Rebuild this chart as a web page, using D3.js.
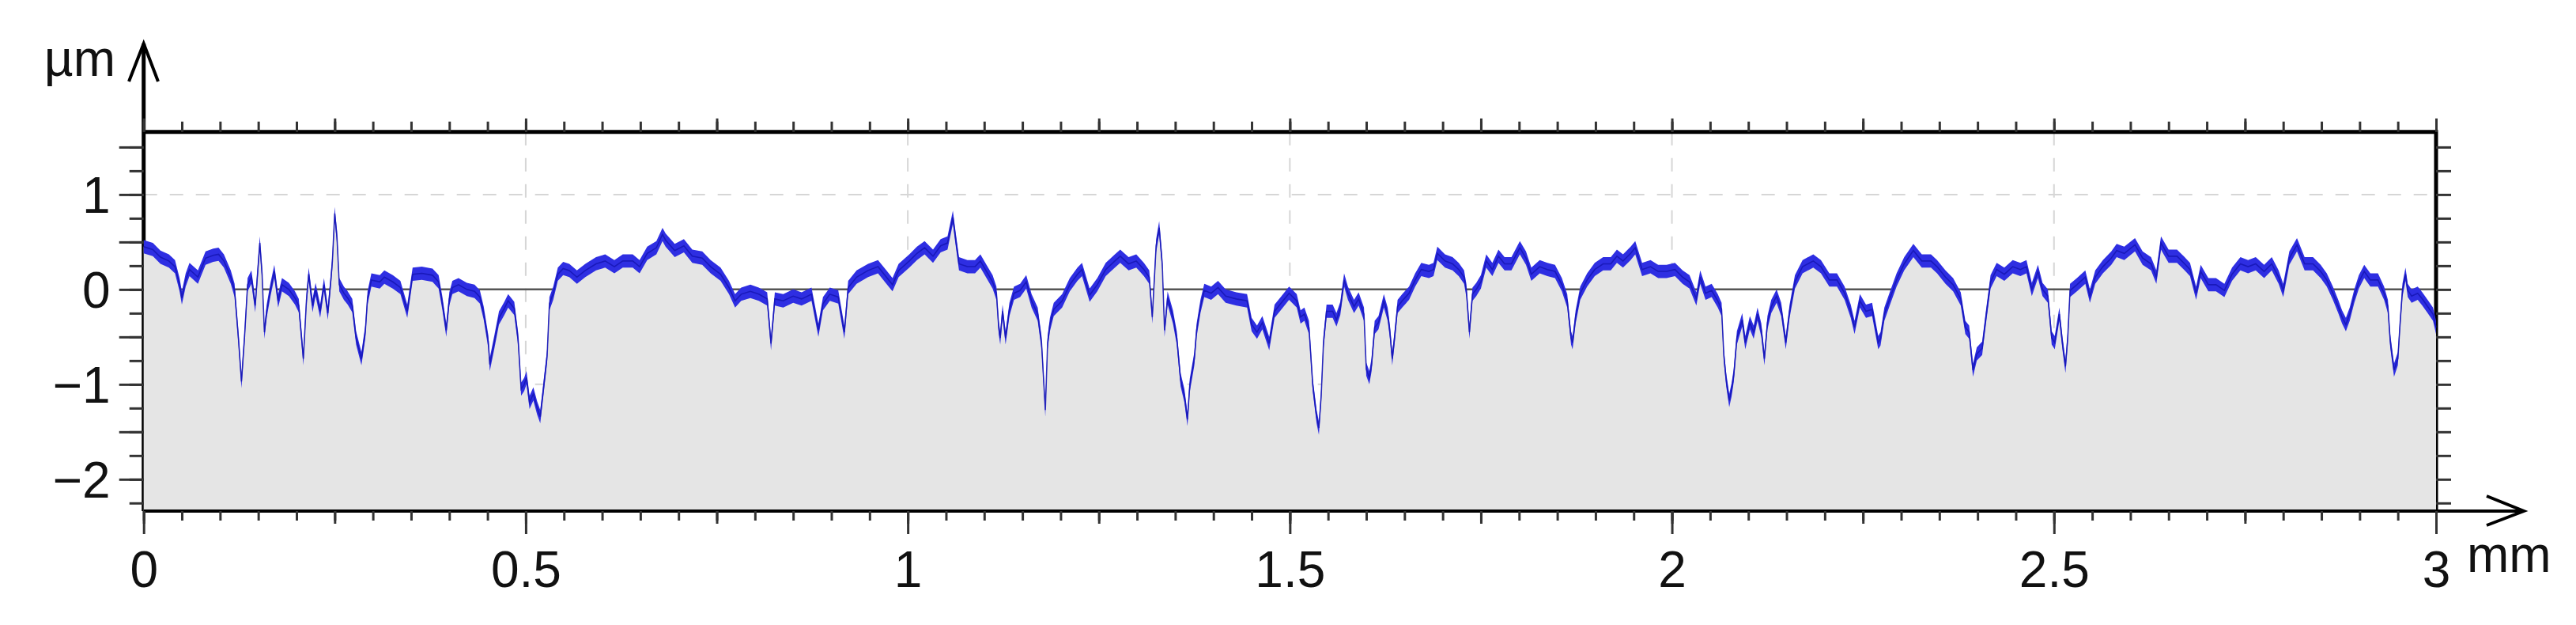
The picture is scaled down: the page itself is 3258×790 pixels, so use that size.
<!DOCTYPE html>
<html>
<head>
<meta charset="utf-8">
<script src="https://cdn.jsdelivr.net/npm/d3@7"></script>
<style>
  body { margin: 0; background: #fff; }
  text { font-family: "Liberation Sans", Arial, sans-serif; fill: #111; }
</style>
</head>
<body>
<div id="chart"></div>
<script>
// profile position along the trace (mm)
var profileX = [
  0.000, 0.012, 0.022, 0.033, 0.041, 0.047, 0.050, 0.055, 0.060, 0.071, 0.081, 0.091,
  0.098, 0.105, 0.114, 0.119, 0.124, 0.128, 0.132, 0.136, 0.141, 0.146, 0.149, 0.152,
  0.155, 0.158, 0.161, 0.166, 0.171, 0.176, 0.181, 0.190, 0.198, 0.203, 0.209, 0.213,
  0.216, 0.221, 0.225, 0.231, 0.236, 0.241, 0.245, 0.247, 0.250, 0.253, 0.256, 0.262,
  0.267, 0.273, 0.278, 0.285, 0.290, 0.293, 0.298, 0.309, 0.315, 0.326, 0.336, 0.345,
  0.352, 0.364, 0.378, 0.386, 0.391, 0.396, 0.400, 0.404, 0.412, 0.423, 0.433, 0.440,
  0.445, 0.451, 0.453, 0.459, 0.465, 0.472, 0.477, 0.485, 0.490, 0.494, 0.498, 0.501,
  0.505, 0.510, 0.515, 0.519, 0.523, 0.528, 0.531, 0.536, 0.542, 0.549, 0.557, 0.567,
  0.578, 0.592, 0.604, 0.616, 0.627, 0.640, 0.649, 0.659, 0.671, 0.679, 0.683, 0.695,
  0.707, 0.718, 0.731, 0.742, 0.755, 0.766, 0.774, 0.782, 0.794, 0.805, 0.816, 0.821,
  0.826, 0.837, 0.850, 0.861, 0.874, 0.883, 0.889, 0.898, 0.909, 0.917, 0.922, 0.933,
  0.948, 0.961, 0.972, 0.980, 0.988, 1.002, 1.012, 1.022, 1.033, 1.043, 1.052, 1.059,
  1.062, 1.067, 1.078, 1.088, 1.095, 1.103, 1.111, 1.116, 1.119, 1.121, 1.124, 1.128,
  1.133, 1.139, 1.147, 1.155, 1.162, 1.170, 1.175, 1.180, 1.183, 1.186, 1.191, 1.202,
  1.212, 1.222, 1.228, 1.238, 1.248, 1.259, 1.271, 1.278, 1.289, 1.299, 1.309, 1.316,
  1.320, 1.325, 1.329, 1.333, 1.336, 1.340, 1.347, 1.352, 1.357, 1.362, 1.366, 1.369,
  1.375, 1.378, 1.383, 1.388, 1.397, 1.406, 1.416, 1.430, 1.444, 1.450, 1.457, 1.464,
  1.473, 1.480, 1.488, 1.499, 1.509, 1.514, 1.519, 1.525, 1.530, 1.535, 1.538, 1.541,
  1.544, 1.548, 1.556, 1.561, 1.566, 1.571, 1.576, 1.584, 1.590, 1.597, 1.600, 1.604,
  1.607, 1.611, 1.616, 1.623, 1.628, 1.631, 1.634, 1.637, 1.641, 1.647, 1.656, 1.664,
  1.672, 1.682, 1.688, 1.693, 1.703, 1.713, 1.721, 1.728, 1.731, 1.735, 1.739, 1.744,
  1.750, 1.757, 1.765, 1.773, 1.781, 1.790, 1.801, 1.809, 1.816, 1.827, 1.837, 1.847,
  1.856, 1.863, 1.868, 1.870, 1.874, 1.880, 1.889, 1.899, 1.910, 1.920, 1.928, 1.936,
  1.946, 1.952, 1.961, 1.972, 1.982, 1.993, 2.004, 2.014, 2.023, 2.032, 2.037, 2.044,
  2.052, 2.060, 2.065, 2.068, 2.071, 2.075, 2.078, 2.081, 2.085, 2.092, 2.096, 2.102,
  2.107, 2.112, 2.117, 2.121, 2.125, 2.130, 2.137, 2.143, 2.149, 2.154, 2.161, 2.171,
  2.185, 2.195, 2.206, 2.216, 2.226, 2.234, 2.239, 2.246, 2.254, 2.262, 2.270, 2.273,
  2.278, 2.285, 2.294, 2.304, 2.316, 2.327, 2.339, 2.347, 2.358, 2.368, 2.378, 2.384,
  2.389, 2.394, 2.399, 2.406, 2.411, 2.417, 2.425, 2.435, 2.446, 2.456, 2.464, 2.471,
  2.479, 2.485, 2.492, 2.497, 2.501, 2.507, 2.511, 2.515, 2.518, 2.521, 2.530, 2.541,
  2.547, 2.554, 2.564, 2.575, 2.582, 2.592, 2.606, 2.616, 2.627, 2.634, 2.640, 2.650,
  2.661, 2.671, 2.678, 2.686, 2.692, 2.702, 2.712, 2.723, 2.733, 2.744, 2.754, 2.764,
  2.775, 2.785, 2.794, 2.800, 2.808, 2.818, 2.828, 2.839, 2.849, 2.857, 2.865, 2.872,
  2.877, 2.882, 2.887, 2.893, 2.899, 2.906, 2.914, 2.924, 2.932, 2.937, 2.940, 2.945,
  2.950, 2.953, 2.956, 2.960, 2.963, 2.968, 2.976, 2.982, 2.989, 2.996, 3.000
];
// profile height (µm)
var profileZ = [
  0.45, 0.42, 0.34, 0.30, 0.24, 0.05, -0.09, 0.10, 0.21, 0.13, 0.33, 0.36,
  0.37, 0.30, 0.13, -0.01, -0.51, -0.97, -0.50, 0.05, 0.13, -0.17, 0.16, 0.49,
  0.16, -0.45, -0.23, 0.00, 0.19, -0.12, 0.05, 0.00, -0.09, -0.17, -0.73, -0.12,
  0.16, -0.17, 0.00, -0.23, 0.05, -0.25, 0.10, 0.30, 0.80, 0.55, 0.05, -0.04,
  -0.09, -0.17, -0.51, -0.73, -0.45, -0.09, 0.10, 0.08, 0.13, 0.08, 0.02, -0.23,
  0.16, 0.17, 0.15, 0.08, -0.15, -0.43, -0.10, 0.02, 0.05, 0.00, -0.02, -0.08,
  -0.25, -0.55, -0.79, -0.55, -0.30, -0.20, -0.12, -0.20, -0.52, -1.05, -1.00, -0.93,
  -1.19, -1.10, -1.25, -1.34, -1.06, -0.70, -0.15, -0.04, 0.16, 0.22, 0.20, 0.13,
  0.20, 0.27, 0.30, 0.24, 0.30, 0.30, 0.24, 0.38, 0.44, 0.58, 0.52, 0.41,
  0.46, 0.35, 0.33, 0.24, 0.16, 0.02, -0.12, -0.05, -0.02, -0.05, -0.10, -0.57,
  -0.10, -0.12, -0.07, -0.10, -0.05, -0.43, -0.15, -0.05, -0.08, -0.45, 0.02, 0.13,
  0.20, 0.24, 0.13, 0.05, 0.20, 0.30, 0.38, 0.44, 0.35, 0.46, 0.49, 0.76,
  0.57, 0.27, 0.24, 0.24, 0.30, 0.19, 0.08, -0.04, -0.40, -0.51, -0.23, -0.51,
  -0.21, -0.04, -0.01, 0.08, -0.12, -0.26, -0.56, -1.27, -0.56, -0.37, -0.21, -0.12,
  0.05, 0.16, 0.21, -0.06, 0.05, 0.21, 0.30, 0.35, 0.27, 0.30, 0.21, 0.13,
  -0.29, 0.46, 0.65, 0.27, -0.43, -0.09, -0.29, -0.51, -0.95, -1.12, -1.37, -1.01,
  -0.73, -0.43, -0.18, -0.01, -0.04, 0.02, -0.07, -0.10, -0.12, -0.37, -0.45, -0.35,
  -0.57, -0.23, -0.15, -0.04, -0.12, -0.29, -0.26, -0.40, -1.01, -1.34, -1.46, -1.12,
  -0.56, -0.23, -0.23, -0.32, -0.20, 0.10, -0.04, -0.18, -0.10, -0.26, -0.84, -0.93,
  -0.79, -0.40, -0.35, -0.12, -0.26, -0.45, -0.73, -0.51, -0.18, -0.12, -0.04, 0.10,
  0.21, 0.19, 0.21, 0.38, 0.30, 0.27, 0.21, 0.13, -0.01, -0.45, -0.05, 0.00,
  0.08, 0.30, 0.21, 0.35, 0.27, 0.27, 0.44, 0.33, 0.16, 0.24, 0.21, 0.19,
  0.05, -0.12, -0.51, -0.56, -0.29, -0.04, 0.10, 0.21, 0.27, 0.27, 0.35, 0.30,
  0.38, 0.44, 0.21, 0.24, 0.19, 0.19, 0.21, 0.13, 0.08, -0.10, 0.13, -0.04,
  -0.01, -0.12, -0.21, -0.70, -0.95, -1.17, -1.06, -0.90, -0.51, -0.32, -0.56, -0.35,
  -0.45, -0.26, -0.43, -0.73, -0.35, -0.18, -0.07, -0.21, -0.56, -0.23, 0.08, 0.24,
  0.30, 0.24, 0.10, 0.10, -0.04, -0.23, -0.40, -0.12, -0.23, -0.21, -0.56, -0.52,
  -0.26, -0.10, 0.10, 0.27, 0.41, 0.30, 0.30, 0.24, 0.13, 0.05, -0.10, -0.40,
  -0.45, -0.85, -0.68, -0.62, -0.29, 0.08, 0.21, 0.16, 0.24, 0.21, 0.24, 0.00,
  0.19, 0.00, -0.07, -0.51, -0.56, -0.26, -0.56, -0.81, -0.51, -0.01, 0.05, 0.13,
  -0.07, 0.13, 0.24, 0.33, 0.41, 0.38, 0.47, 0.33, 0.27, 0.13, 0.49, 0.35,
  0.35, 0.27, 0.21, -0.04, 0.19, 0.05, 0.05, -0.01, 0.16, 0.27, 0.24, 0.27,
  0.19, 0.27, 0.13, -0.01, 0.33, 0.47, 0.27, 0.27, 0.19, 0.10, -0.04, -0.18,
  -0.29, -0.37, -0.26, -0.07, 0.08, 0.19, 0.10, 0.10, -0.04, -0.18, -0.54, -0.85,
  -0.73, -0.35, -0.01, 0.16, -0.01, -0.07, -0.04, -0.10, -0.18, -0.26, -0.40
];
var xLabels = ["0", "0.5", "1", "1.5", "2", "2.5", "3"];
var yLabels = ["\u22122", "\u22121", "0", "1"];
var xUnit = "mm";
var yUnit = "\u00b5m";

var width = 3258, height = 790;
var BAND = 0.07; // half thickness of the noisy trace band, in µm

var x = d3.scaleLinear().domain([0, 3]).range([181.7, 3081]);
var y = d3.scaleLinear().domain([-2.335, 1.66]).range([646, 166.7]);

var data = d3.zip(profileX, profileZ);

var svg = d3.select("#chart").append("svg")
  .attr("width", width)
  .attr("height", height);

var x0 = x(0), x1 = x(3), yTop = y(1.66), yBot = y(-2.335);

// GRID (dashed, hidden by the fill below the trace)
var gridX = [0.5, 1, 1.5, 2, 2.5];
var gridY = [-2, -1, 1];
svg.selectAll(".gx").data(gridX).enter().append("line")
  .attr("x1", d => x(d)).attr("x2", d => x(d))
  .attr("y1", yTop).attr("y2", yBot)
  .attr("stroke", "#d6d6d6").attr("stroke-width", 2)
  .attr("stroke-dasharray", "17,16");
svg.selectAll(".gy").data(gridY).enter().append("line")
  .attr("x1", x0).attr("x2", x1)
  .attr("y1", d => y(d)).attr("y2", d => y(d))
  .attr("stroke", "#d6d6d6").attr("stroke-width", 2)
  .attr("stroke-dasharray", "17,16");

// ZERO line
svg.append("line")
  .attr("x1", x0).attr("x2", x1)
  .attr("y1", y(0)).attr("y2", y(0))
  .attr("stroke", "#555").attr("stroke-width", 2.5);

// FRAME: top + right border, left axis with arrow
svg.append("path")
  .attr("d", "M" + x0 + "," + yTop + "H" + x1 + "V" + yBot)
  .attr("fill", "none").attr("stroke", "#000").attr("stroke-width", 5);
svg.append("path")
  .attr("d", "M" + x0 + "," + yBot + "V55")
  .attr("fill", "none").attr("stroke", "#000").attr("stroke-width", 5);

// MATERIAL fill under the profile
var fillArea = d3.area()
  .x(d => x(d[0]))
  .y0(yBot)
  .y1(d => y(d[1]));
svg.append("path").datum(data)
  .attr("d", fillArea)
  .attr("fill", "#e5e5e5");

// PROFILE trace: vertical band + thin core line
var band = d3.area()
  .x(d => x(d[0]))
  .y0(d => y(d[1] - BAND))
  .y1(d => y(d[1] + BAND));
svg.append("path").datum(data)
  .attr("d", band)
  .attr("fill", "#2e2ee2");
svg.append("path").datum(data)
  .attr("d", d3.line().x(d => x(d[0])).y(d => y(d[1])))
  .attr("fill", "none")
  .attr("stroke", "#1414b0")
  .attr("stroke-width", 1.6)
  .attr("stroke-opacity", 0.8);

// bottom axis line + arrows
svg.append("path")
  .attr("d", "M" + x0 + "," + yBot + "H3192")
  .attr("fill", "none").attr("stroke", "#000").attr("stroke-width", 4);
svg.append("path")
  .attr("d", "M3145,627L3192," + yBot + "L3145,664")
  .attr("fill", "none").attr("stroke", "#000").attr("stroke-width", 4);
svg.append("path")
  .attr("d", "M163,103L" + x0 + ",55L200,103")
  .attr("fill", "none").attr("stroke", "#000").attr("stroke-width", 4);

// AXES (ticks from d3 axes)
var steps = function(a, b, s) { return d3.range(Math.round((b - a) / s) + 1).map(i => +(a + i * s).toFixed(3)); };
var xMinor = steps(0, 3, 0.05), xQuarter = steps(0, 3, 0.25), xMajor = steps(0, 3, 0.5);
var yQuarter = steps(-2.25, 1.5, 0.25), yHalf = steps(-2, 1.5, 0.5);

function styleAxis(g) {
  g.select(".domain").remove();
  g.selectAll(".tick line").attr("stroke", "#333").attr("stroke-width", 3);
}

svg.append("g").attr("transform", "translate(0," + yBot + ")")
  .call(d3.axisBottom(x).tickValues(xMinor).tickSize(12).tickFormat(""))
  .call(styleAxis);
svg.append("g").attr("transform", "translate(0," + yBot + ")")
  .call(d3.axisBottom(x).tickValues(xQuarter).tickSize(16).tickFormat(""))
  .call(styleAxis);
var xAx = svg.append("g").attr("transform", "translate(0," + yBot + ")")
  .call(d3.axisBottom(x).tickValues(xMajor).tickSize(29).tickFormat((d, i) => xLabels[i]))
  .call(styleAxis);
xAx.selectAll("text").attr("y", 96).attr("dy", 0)
  .style("font-size", "64px").style("font-family", "Liberation Sans, Arial, sans-serif").attr("fill", "#111");

svg.append("g").attr("transform", "translate(0," + yTop + ")")
  .call(d3.axisTop(x).tickValues(xMinor).tickSize(13).tickFormat(""))
  .call(styleAxis);
svg.append("g").attr("transform", "translate(0," + yTop + ")")
  .call(d3.axisTop(x).tickValues(xQuarter).tickSize(17).tickFormat(""))
  .call(styleAxis);

svg.append("g").attr("transform", "translate(" + x0 + ",0)")
  .call(d3.axisLeft(y).tickValues(yQuarter).tickSize(18).tickFormat(""))
  .call(styleAxis);
var yAx = svg.append("g").attr("transform", "translate(" + x0 + ",0)")
  .call(d3.axisLeft(y).tickValues(yHalf).tickSize(31)
    .tickFormat(d => Number.isInteger(d) ? yLabels[d + 2] : ""))
  .call(styleAxis);
yAx.selectAll("text").attr("x", -42).attr("dy", "0.36em")
  .style("font-size", "64px").style("font-family", "Liberation Sans, Arial, sans-serif").attr("fill", "#111");

svg.append("g").attr("transform", "translate(" + x1 + ",0)")
  .call(d3.axisRight(y).tickValues(yQuarter).tickSize(19).tickFormat(""))
  .call(styleAxis);

// UNIT labels
svg.append("text").attr("x", 3120).attr("y", 723)
  .style("font-size", "64px").text(xUnit);
svg.append("text").attr("x", 146).attr("y", 96)
  .attr("text-anchor", "end")
  .style("font-size", "64px").text(yUnit);
</script>
</body>
</html>
